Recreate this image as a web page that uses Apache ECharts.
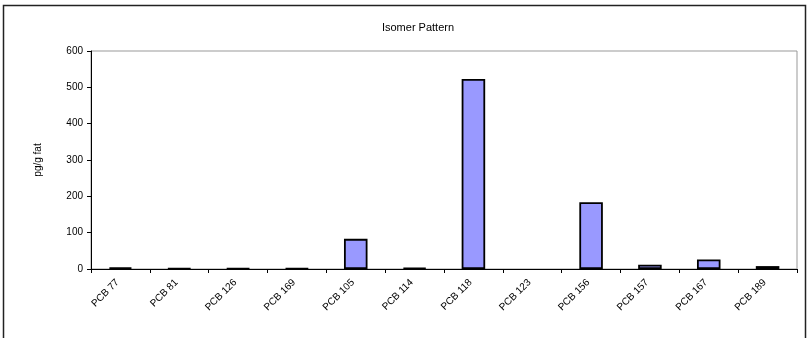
<!DOCTYPE html>
<html>
<head>
<meta charset="utf-8">
<script src="https://cdn.jsdelivr.net/npm/echarts@6/dist/echarts.min.js"></script>
<style>
  html, body { margin: 0; padding: 0; background: #fff; }
  #chart { width: 809px; height: 338px; }
</style>
</head>
<body>
<div id="chart"></div>
<script>
// PCB congener concentrations (pg/g fat)
const isomers = ['PCB 77', 'PCB 81', 'PCB 126', 'PCB 169', 'PCB 105', 'PCB 114',
                 'PCB 118', 'PCB 123', 'PCB 156', 'PCB 157', 'PCB 167', 'PCB 189'];
const concentrations = [4, 2, 2, 2, 83, 3, 523, 0, 184, 12, 26, 8];
const yTicks = [0, 100, 200, 300, 400, 500, 600];

const chart = echarts.init(document.getElementById('chart'), null, { renderer: 'canvas' });
const font = 'Arial, "Liberation Sans", sans-serif';

// zero-valued congeners get no outline so that nothing is drawn for them
const barData = concentrations.map(v => v === 0
  ? { value: v, itemStyle: { borderWidth: 0 } }
  : v);

chart.setOption({
  animation: false,
  backgroundColor: '#ffffff',
  title: {
    text: 'Isomer Pattern',
    left: 413,
    top: 17,
    textAlign: 'center',
    textStyle: { fontFamily: font, fontSize: 11, fontWeight: 'normal', color: '#000' }
  },
  graphic: [{
    type: 'rect',
    shape: { x: 3.5, y: 5.5, width: 802, height: 345 },
    style: { fill: 'none', stroke: '#222', lineWidth: 1.5 },
    silent: true
  }],
  grid: {
    left: 91, right: 12, top: 51, bottom: 69,
    show: true,
    borderColor: '#999',
    borderWidth: 1
  },
  xAxis: {
    type: 'category',
    data: isomers,
    axisLine: { lineStyle: { color: '#000', width: 1 } },
    axisTick: { show: true, alignWithLabel: false, length: 4, lineStyle: { color: '#000' } },
    axisLabel: {
      interval: 0,
      rotate: 45,
      margin: 9,
      padding: [0, 4, 0, 0],
      fontFamily: font,
      fontSize: 10,
      color: '#000'
    },
    splitLine: { show: false }
  },
  yAxis: {
    type: 'value',
    min: yTicks[0],
    max: yTicks[yTicks.length - 1],
    interval: yTicks[1] - yTicks[0],
    name: 'pg/g fat',
    nameLocation: 'middle',
    nameGap: 48,
    nameTextStyle: { fontFamily: font, fontSize: 10, color: '#000' },
    axisLine: { show: true, lineStyle: { color: '#000', width: 1 } },
    axisTick: { show: true, length: 4, lineStyle: { color: '#000' } },
    axisLabel: { fontFamily: font, fontSize: 10, color: '#000', margin: 8 },
    splitLine: { show: false }
  },
  series: [{
    type: 'bar',
    data: barData,
    barWidth: '40%',
    itemStyle: {
      color: '#9999FF',
      borderColor: '#000',
      borderWidth: 1.8
    }
  }]
});
</script>
</body>
</html>
